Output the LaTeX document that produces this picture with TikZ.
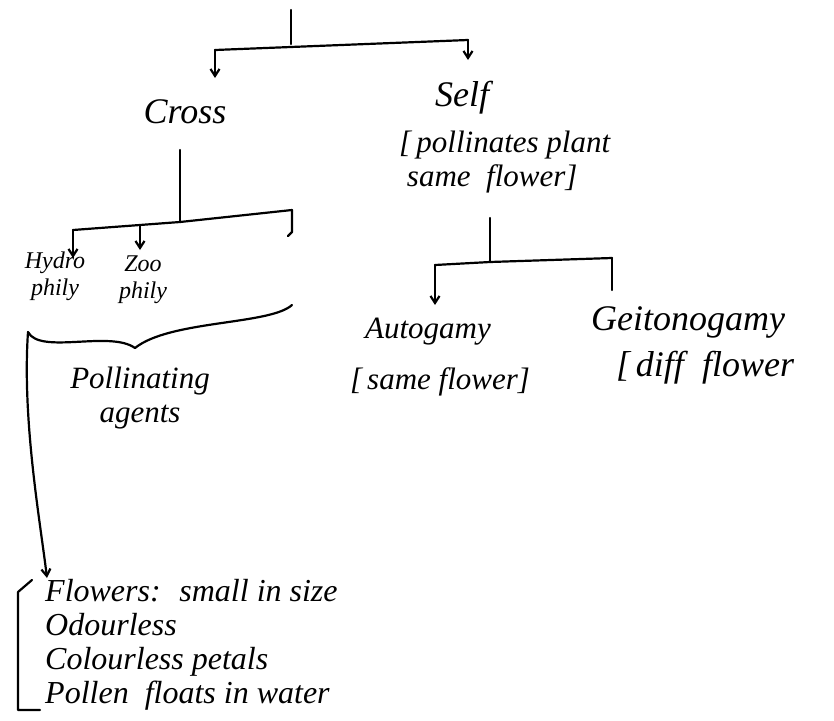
\documentclass[tikz,border=0pt]{standalone}
\usepackage{fontspec}
\setmainfont{Liberation Serif}
\usetikzlibrary{arrows.meta}
\begin{document}
\begin{tikzpicture}[x=1pt,y=-1pt,
  ink/.style={line width=2.2pt,line cap=round,line join=round},
  arr/.style={ink,-{Straight Barb[length=7pt,width=9pt]}},
  lbl/.style={font=\fontsize{36}{38}\selectfont\itshape,inner sep=1pt},
  mid/.style={font=\fontsize{31}{34}\selectfont\itshape,inner sep=1pt,align=center},
  sm/.style={font=\fontsize{24}{27}\selectfont\itshape,inner sep=1pt,align=center}]
\useasboundingbox (0,0) rectangle (834,720);
% level 1
\coordinate (root) at (291,10);
\coordinate (j1) at (291,44);
\coordinate (ca) at (215,50);
\coordinate (sa) at (468,40);
\node[lbl] (cross) at (185,112) {Cross};
\node[lbl] (self) at (462,98) {Self};
\node[mid,align=left,anchor=west] (selfnote) at (398,162) {[\,pollinates plant\\\ same \ flower]};
\draw[ink] (root) -- (j1);
\draw[ink] (ca) -- (sa);
\draw[arr] (ca) -- ++(0,28);
\draw[arr] (sa) -- ++(0,20);
% Cross branch
\coordinate (cb) at (180,150);
\coordinate (cj) at (180,222);
\coordinate (hL) at (73,230);
\coordinate (zM) at (140,226);
\coordinate (tR) at (292,210);
\draw[ink] (cb) -- (cj);
\draw[ink] (hL) -- (cj) -- (tR);
\draw[arr] (hL) -- ++(0,28);
\draw[arr] (zM) -- ++(0,24);
\draw[ink] (tR) -- ++(0,22) -- ++(-4,4);
\node[sm] (hydro) at (55,276) {Hydro\\phily};
\node[sm] (zoo) at (143,280) {Zoo\\phily};
% brace
\coordinate (bL) at (28,332);
\coordinate (bR) at (292,305);
\draw[ink] (bL) .. controls (40,355) and (110,330) .. (135,348)
  .. controls (170,320) and (270,325) .. (bR);
\node[mid] (agents) at (140,398) {Pollinating\\agents};
% Self branch
\coordinate (sb) at (490,218);
\coordinate (sj) at (490,262);
\coordinate (aL) at (435,265);
\coordinate (gR) at (612,258);
\draw[ink] (sb) -- (sj);
\draw[ink] (aL) -- (sj) -- (gR);
\draw[arr] (aL) -- ++(0,40);
\draw[ink] (gR) -- ++(0,32);
\node[mid] (auto) at (428,332) {Autogamy};
\node[mid] (autonote) at (440,382) {[\,same flower]};
\node[lbl] (geito) at (688,322) {Geitonogamy};
\node[lbl] (geitonote) at (705,368) {[\,diff \ flower};
% list
\node[font=\fontsize{32}{34}\selectfont\itshape,inner sep=1pt,anchor=north west,align=left] (list) at (44,578)
  {Flowers: \ small in size\\Odourless\\Colourless petals\\Pollen \ floats in water};
\draw[arr] (bL) .. controls (22,420) and (40,520) .. (47,578);
\draw[ink] (32,580) -- (18,592) -- (18,710) -- (40,710);
\end{tikzpicture}
\end{document}
